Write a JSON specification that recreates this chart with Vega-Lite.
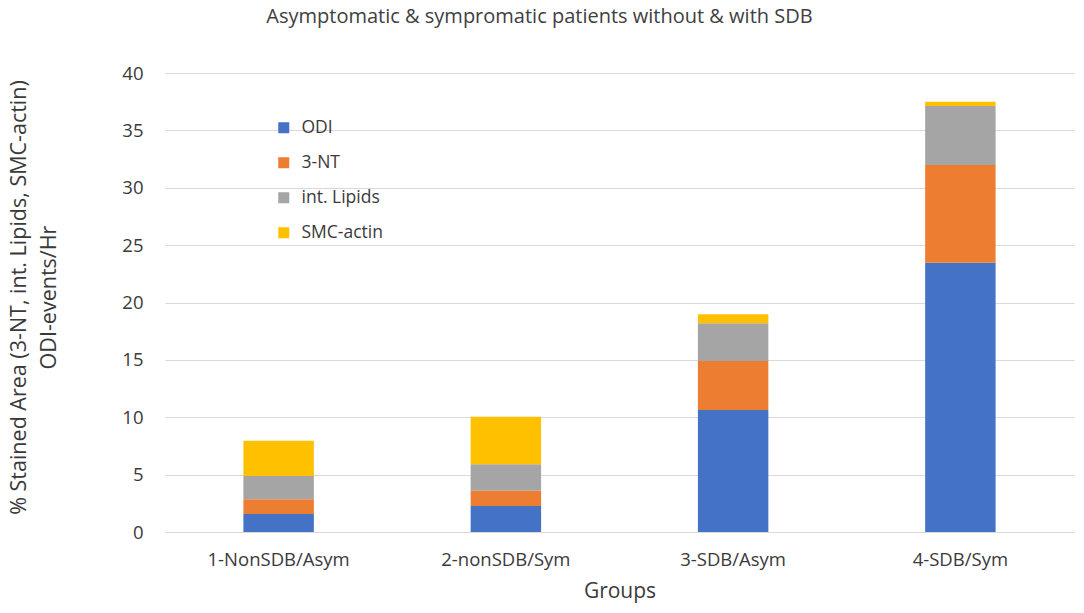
{
  "$schema": "https://vega.github.io/schema/vega-lite/v6.json",
  "autosize": "none",
  "padding": {"left": 165, "top": 73, "right": 10, "bottom": 81},
  "width": 909,
  "height": 459,
  "background": "white",
  "title": {
    "text": "Asymptomatic & sympromatic patients without & with SDB",
    "fontSize": 20,
    "fontWeight": "normal",
    "font": "Open Sans",
    "color": "#404040",
    "anchor": "middle",
    "dx": -80,
    "offset": 37
  },
  "data": {
    "values": [
      {"Group": "1-NonSDB/Asym", "Measure": "ODI", "k": 1, "Value": 1.57},
      {"Group": "1-NonSDB/Asym", "Measure": "3-NT", "k": 2, "Value": 1.28},
      {"Group": "1-NonSDB/Asym", "Measure": "int. Lipids", "k": 3, "Value": 2.03},
      {"Group": "1-NonSDB/Asym", "Measure": "SMC-actin", "k": 4, "Value": 3.08},
      {"Group": "2-nonSDB/Sym", "Measure": "ODI", "k": 1, "Value": 2.27},
      {"Group": "2-nonSDB/Sym", "Measure": "3-NT", "k": 2, "Value": 1.33},
      {"Group": "2-nonSDB/Sym", "Measure": "int. Lipids", "k": 3, "Value": 2.3},
      {"Group": "2-nonSDB/Sym", "Measure": "SMC-actin", "k": 4, "Value": 4.15},
      {"Group": "3-SDB/Asym", "Measure": "ODI", "k": 1, "Value": 10.63},
      {"Group": "3-SDB/Asym", "Measure": "3-NT", "k": 2, "Value": 4.27},
      {"Group": "3-SDB/Asym", "Measure": "int. Lipids", "k": 3, "Value": 3.29},
      {"Group": "3-SDB/Asym", "Measure": "SMC-actin", "k": 4, "Value": 0.78},
      {"Group": "4-SDB/Sym", "Measure": "ODI", "k": 1, "Value": 23.47},
      {"Group": "4-SDB/Sym", "Measure": "3-NT", "k": 2, "Value": 8.51},
      {"Group": "4-SDB/Sym", "Measure": "int. Lipids", "k": 3, "Value": 5.14},
      {"Group": "4-SDB/Sym", "Measure": "SMC-actin", "k": 4, "Value": 0.38}
    ]
  },
  "mark": {"type": "bar", "strokeWidth": 0},
  "encoding": {
    "x": {
      "field": "Group",
      "type": "nominal",
      "sort": null,
      "scale": {"paddingInner": 0.69, "paddingOuter": 0.345},
      "axis": {
        "title": "Groups",
        "labelAngle": 0,
        "labelFontSize": 18.5,
        "labelPadding": 18,
        "titleFontSize": 21,
        "titlePadding": 12,
        "domain": false,
        "ticks": false
      }
    },
    "y": {
      "field": "Value",
      "type": "quantitative",
      "stack": "zero",
      "scale": {"domain": [0, 40]},
      "axis": {
        "values": [0, 5, 10, 15, 20, 25, 30, 35, 40],
        "title": ["% Stained Area (3-NT, int. Lipids,  SMC-actin)", "ODI-events/Hr"],
        "titleFontSize": 21.5,
        "titleLineHeight": 30,
        "titleAngle": -90,
        "titleAlign": "center",
        "titleBaseline": "top",
        "titleX": -157,
        "titleY": 224,
        "labelFontSize": 18.5,
        "labelPadding": 22,
        "domain": false,
        "ticks": false,
        "grid": true
      }
    },
    "color": {
      "field": "Measure",
      "type": "nominal",
      "scale": {
        "domain": ["ODI", "3-NT", "int. Lipids", "SMC-actin"],
        "range": ["#4472C4", "#ED7D31", "#A5A5A5", "#FFC000"]
      },
      "legend": {
        "title": null,
        "orient": "none",
        "legendX": 110,
        "legendY": 46,
        "symbolType": "square",
        "symbolSize": 121,
        "symbolStrokeWidth": 0,
        "labelFontSize": 17.5,
        "labelOffset": 9,
        "rowPadding": 16
      }
    },
    "order": {"field": "k", "type": "quantitative"}
  },
  "config": {
    "font": "Open Sans",
    "view": {"stroke": null},
    "axis": {
      "labelColor": "#3a3a3a",
      "titleColor": "#3a3a3a",
      "labelFont": "Open Sans",
      "titleFont": "Open Sans",
      "titleFontWeight": "normal",
      "gridColor": "#d9d9d9",
      "gridWidth": 1.2
    },
    "legend": {"labelColor": "#3a3a3a", "labelFont": "Open Sans"}
  }
}
